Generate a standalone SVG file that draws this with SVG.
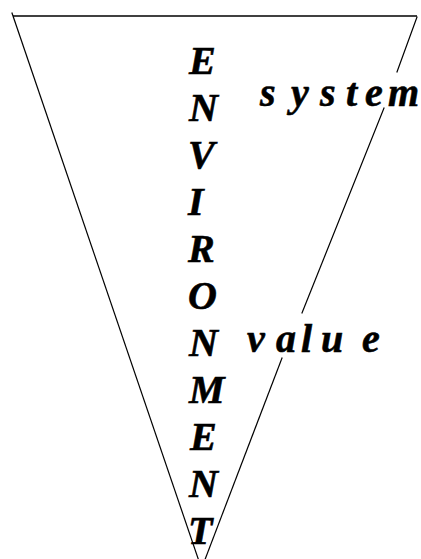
<svg xmlns="http://www.w3.org/2000/svg" width="421" height="559" viewBox="0 0 421 559">
<style>
  .ln { stroke: #000; stroke-width: 1.2; fill: none; stroke-linecap: square; }
  .top { stroke: #000; stroke-width: 1.6; fill: none; }
  .t { font-family: "Liberation Serif", "Times New Roman", serif; font-weight: bold; font-style: italic; font-size: 40px; fill: #000; stroke: #000; stroke-width: 0.6; }
</style>
<rect width="421" height="559" fill="#fff"/>
<g id="triangle">
  <line class="top" x1="13" y1="16" x2="417" y2="16"/>
  <line class="ln" x1="12" y1="13" x2="202" y2="570"/>
  <line class="ln" x1="417" y1="17" x2="397" y2="72"/>
  <line class="ln" x1="384" y1="108" x2="302" y2="313"/>
  <line class="ln" x1="282" y1="358" x2="201" y2="570"/>
</g>
<g id="environment" class="t">
  <text x="189" y="74">E</text>
  <text x="189" y="121">N</text>
  <text x="188" y="168">V</text>
  <text x="188" y="215">I</text>
  <text x="188" y="262">R</text>
  <text x="188" y="309">O</text>
  <text x="189" y="356">N</text>
  <text x="189" y="403">M</text>
  <text x="190" y="450">E</text>
  <text x="189" y="497">N</text>
  <text x="188" y="544">T</text>
</g>
<g id="system">
  <text class="t" y="106"><tspan x="260">s</tspan><tspan x="291">y</tspan><tspan x="320">s</tspan><tspan x="346">t</tspan><tspan x="365">e</tspan><tspan x="388">m</tspan></text>
</g>
<g id="value">
  <text class="t" y="352"><tspan x="247">v</tspan><tspan x="276">a</tspan><tspan x="301">l</tspan><tspan x="321">u</tspan><tspan x="362">e</tspan></text>
</g>
</svg>
